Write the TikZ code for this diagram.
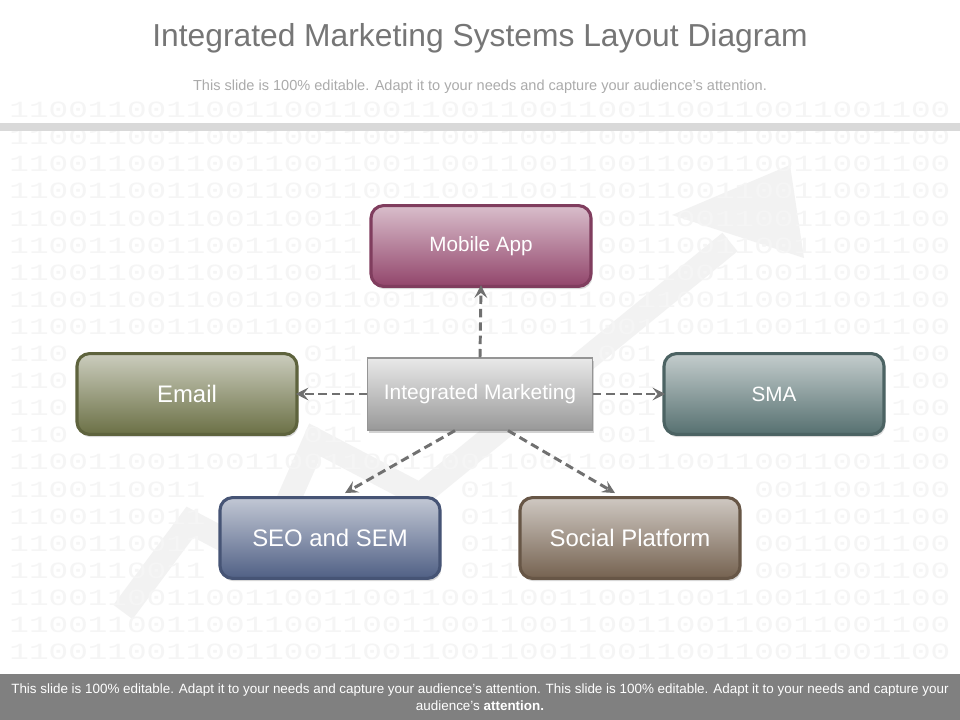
\documentclass[tikz,border=0pt]{standalone}
\usepackage{fontspec}
\setmainfont{Liberation Sans}
\newfontfamily\bitsfont[FakeStretch=1.408]{Liberation Mono}
\usetikzlibrary{arrows.meta,shadows,calc}
\definecolor{mobc}{RGB}{146,69,107}
\definecolor{emailc}{RGB}{107,112,69}
\definecolor{smac}{RGB}{86,112,112}
\definecolor{seoc}{RGB}{80,96,133}
\definecolor{socc}{RGB}{117,98,80}
\definecolor{imc}{RGB}{166,166,166}
\definecolor{linkc}{RGB}{112,112,112}
\definecolor{titlec}{RGB}{118,118,118}
\definecolor{footc}{RGB}{128,128,128}
\newcommand\bitrun[2]{\foreach \c in {#1,...,#2}{\pgfmathtruncatemacro\d{mod(\c,4)<2}\d}}
\tikzset{
  box/.style={draw=#1!88!black, line width=2.2pt, rounded corners=9pt,
    top color=#1!35!white, middle color=#1, bottom color=#1,
    minimum width=5.5cm, minimum height=2.02cm, text=white,
    font=\fontsize{17}{20}\selectfont,
    drop shadow={shadow xshift=1pt, shadow yshift=-2pt, opacity=0.3}},
  centerbox/.style={draw=imc!90!black, line width=0.8pt,
    top color=imc!25!white, middle color=imc, bottom color=imc!92!black,
    minimum width=5.62cm, minimum height=1.8cm, text=white,
    font=\fontsize{14.9}{17}\selectfont,
    drop shadow={shadow xshift=1pt, shadow yshift=-2pt, opacity=0.35}},
  link/.style={draw=linkc, line width=2.1pt, dash pattern=on 6pt off 3.5pt,
    -{Stealth[length=9pt,width=9pt,inset=3.5pt]}},
  bits/.style={text=black!4, font=\bitsfont\fontsize{16.5}{18}\selectfont,
    inner sep=0pt, anchor=west}
}
\begin{document}
\begin{tikzpicture}[x=0.025cm,y=-0.025cm]
\useasboundingbox (0,0) rectangle (960,720);
\fill[white] (0,0) rectangle (960,720);
\draw[black!5, line width=17pt, line join=miter] (123,612) -- (190,522) -- (262,560) -- (315,440) -- (420,495) -- (730,242);
\fill[black!5] (672,215) -- (790,165) -- (804,258) -- cycle;
\foreach \r in {0,1,2,3,7,8,13,18,19,20}
  \node[bits] (row\r) at (9.2,110+27.1*\r) {\bitrun{0}{47}};
\foreach \r in {4,5,6}{
  \node[bits] (row\r a) at (9.2,110+27.1*\r) {\bitrun{0}{17}};
  \node[bits] (row\r b) at (9.2+19.6*30,110+27.1*\r) {\bitrun{30}{47}};
}
\foreach \r in {9,...,12}{
  \node[bits] (row\r a) at (9.2,110+27.1*\r) {\bitrun{0}{2}};
  \node[bits] (row\r b) at (9.2+19.6*15,110+27.1*\r) {\bitrun{15}{17}};
  \node[bits] (row\r c) at (9.2+19.6*30,110+27.1*\r) {\bitrun{30}{32}};
  \node[bits] (row\r d) at (9.2+19.6*45,110+27.1*\r) {\bitrun{45}{47}};
}
\foreach \r in {14,...,17}{
  \node[bits] (row\r a) at (9.2,110+27.1*\r) {\bitrun{0}{9}};
  \node[bits] (row\r b) at (9.2+19.6*23,110+27.1*\r) {\bitrun{23}{25}};
  \node[bits] (row\r c) at (9.2+19.6*38,110+27.1*\r) {\bitrun{38}{47}};
}
\fill[black!15] (0,123) rectangle (960,131);
\node[text=titlec, font=\fontsize{22.6}{27}\selectfont] (title) at (480,38) {Integrated Marketing Systems Layout Diagram};
\node[text=black!33, font=\fontsize{10.35}{12}\selectfont] (subtitle) at (480,87) {This slide is 100\% editable. Adapt it to your needs and capture your audience's attention.};

\node[centerbox] (im) at (480,394) {Integrated Marketing};
\node[box=mobc, font=\fontsize{14.7}{17}\selectfont] (mob) at (481,246) {Mobile App};
\node[box=emailc] (email) at (187,394) {Email};
\node[box=smac, font=\fontsize{14.7}{17}\selectfont] (sma) at (774,394) {SMA};
\node[box=seoc] (seo) at (330,538) {SEO and SEM};
\node[box=socc] (soc) at (630,538) {Social Platform};

\draw[link] (im.north) -- ([yshift=2pt]mob.south);
\draw[link] (im.west) -- ([xshift=-2pt]email.east);
\draw[link] (im.east) -- ([xshift=2pt]sma.west);
\draw[link] ($(im.south)+(-25,0)$) -- ($(seo.north)+(15,-3)$);
\draw[link] ($(im.south)+(28,0)$) -- ($(soc.north)+(-15,-3)$);

\fill[footc] (0,674) rectangle (960,720);
\node[text=white, font=\fontsize{9.55}{12}\selectfont, align=center] (foot) at (480,697)
  {This slide is 100\% editable. Adapt it to your needs and capture your audience's attention. This slide is 100\% editable. Adapt it to your needs and capture your\\ audience's \textbf{attention.}};
\end{tikzpicture}
\end{document}
